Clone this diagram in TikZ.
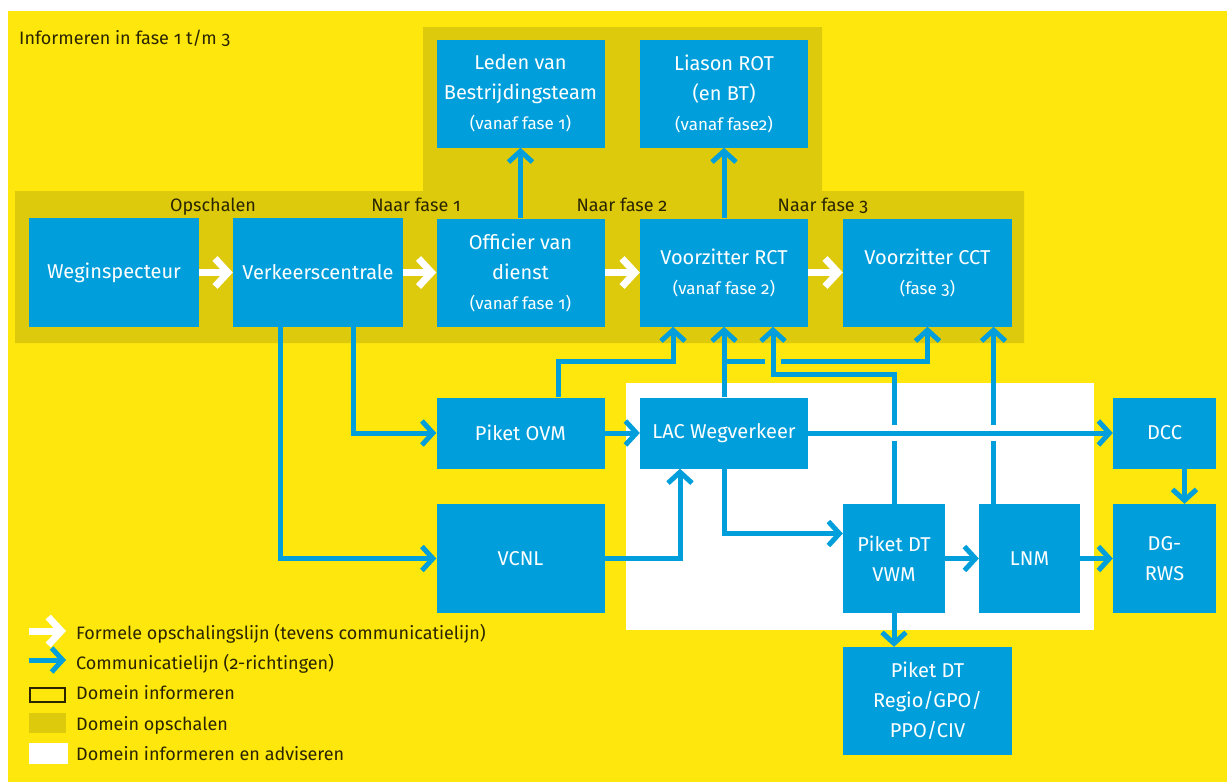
\documentclass[tikz,border=0pt]{standalone}
\usepackage{fontspec}
\setmainfont{Fira Sans}[Numbers=OldStyle]
\usetikzlibrary{arrows.meta}
\definecolor{rwsgeel}{HTML}{FEE70C}
\definecolor{rwsoker}{HTML}{DDCA0C}
\definecolor{rwsblauw}{HTML}{009FDB}
\definecolor{rwstekst}{HTML}{2A2500}
\newcommand{\klein}{\fontsize{17}{30}\selectfont}

\begin{document}
\begin{tikzpicture}[x=1pt,y=-1pt,
    blok/.style={fill=rwsblauw, text=white, align=center, inner sep=0pt, font=\fontsize{20}{30}\selectfont},
    breed/.style={blok, minimum width=168pt, minimum height=108pt},
    plat/.style={blok, minimum width=168pt, minimum height=71pt},
    smal/.style={blok, minimum width=102pt, minimum height=109pt},
    label/.style={text=rwstekst, inner sep=0pt, font=\fontsize{18}{20}\selectfont},
    opschaal/.style={draw=white, line width=7pt, -{Straight Barb[length=13pt,width=28pt,sharp]}},
    comm/.style={draw=rwsblauw, line width=5pt, -{Straight Barb[length=11pt,width=24pt,sharp]}},
    gat/.style={line width=8pt}]

\useasboundingbox (0,0) rectangle (1232,782);
\fill[white] (0,0) rectangle (1232,782);
\fill[rwsgeel] (8,11) rectangle (1227,782);
\fill[rwsoker] (15,191) -| (423,27) -| (822,191) -| (1024,343) -| cycle;
\fill[white] (626,383) rectangle (1094,630);

    \node[label, anchor=base west] (kop) at (19,44) {Informeren in fase 1 t/m 3};
    \node[label, anchor=base] (fase0) at (213,211) {Opschalen};
    \node[label, anchor=base] (fase1) at (416,211) {Naar fase 1};
    \node[label, anchor=base] (fase2) at (622,211) {Naar fase 2};
    \node[label, anchor=base] (fase3) at (823,211) {Naar fase 3};

    \node[breed, minimum width=170pt, minimum height=109pt] (weg) at (114,272.5) {Weginspecteur};
    \node[breed, minimum width=170pt, minimum height=109pt] (vc) at (318,272.5) {Verkeerscentrale};
    \node[breed] (ovd) at (520.5,272.5) {Officier van\\dienst\\\klein (vanaf fase 1)};
    \node[breed] (rct) at (724,272.5) {Voorzitter RCT\\\klein (vanaf fase 2)};
    \node[breed, minimum width=169pt] (cct) at (927.5,272.5) {Voorzitter CCT\\\klein (fase 3)};
    \node[breed] (leden) at (520.5,93.5) {Leden van\\Bestrijdingsteam\\\klein (vanaf fase 1)};
    \node[breed] (liason) at (724,93.5) {Liason ROT\\(en BT)\\\klein (vanaf fase2)};

    \node[plat] (ovm) at (520.5,433) {Piket OVM};
    \node[plat] (lac) at (724,433) {LAC Wegverkeer};
    \node[plat, minimum width=103pt] (dcc) at (1164.5,433) {DCC};
    \node[breed, minimum height=109pt] (vcnl) at (520.5,558.5) {VCNL};
    \node[smal] (dt) at (894,558.5) {Piket DT\\VWM};
    \node[smal, minimum width=101pt] (lnm) at (1029.5,558.5) {LNM};
    \node[smal, minimum width=103pt] (dg) at (1164.5,558.5) {DG-\\RWS};
    \node[breed, minimum width=169pt] (regio) at (927.5,701) {Piket DT\\Regio/GPO/\\PPO/CIV};

    \coordinate (railhi) at (0,361);
    \coordinate (raillo) at (0,374);
    \coordinate (vc1) at ([xshift=35pt]vc.south);
    \coordinate (vc2) at ([xshift=-38pt]vc.south);
    \coordinate (ovm1) at ([xshift=38pt]ovm.north);
    \coordinate (rct1) at ([xshift=-51pt]rct.south);
    \coordinate (rct3) at ([xshift=49pt]rct.south);
    \coordinate (cct2) at ([xshift=66pt]cct.south);
    \coordinate (lac1) at ([xshift=-44pt]lac.south);
    \coordinate (dt1) at ([yshift=25pt]dt.west);
    \coordinate (dcc1) at ([xshift=20pt]dcc.south);
    \coordinate (dg1) at ([xshift=20pt]dg.north);
    \coordinate (kruis1) at (rct3 |- railhi);
    \coordinate (kruis2) at (dt.north |- lac.east);
    \coordinate (kruis3) at (cct2 |- lac.east);

\draw[opschaal] (weg) -- (vc);
\draw[opschaal] (vc) -- (ovd);
\draw[opschaal] (ovd) -- (rct);
\draw[opschaal] (rct) -- (cct);

\draw[comm] (ovd) -- (leden);
\draw[comm] (rct) -- (liason);
\draw[comm] (vc1) |- (ovm);
\draw[comm] (vc2) |- (vcnl);
\draw[comm] (ovm) -- (lac);
\draw[comm] (ovm1) |- (rct1 |- railhi) -- (rct1);
\draw[comm] (lac) -- (rct);
\draw[comm] (lac.north) |- (cct.south |- railhi) -- (cct.south);
\draw[rwsgeel, gat] ([xshift=-8pt]kruis1) -- ([xshift=8pt]kruis1);
\draw[comm] (dt) |- (rct3 |- raillo) -- (rct3);
\draw[comm] (lnm.north -| cct2) -- (cct2);
\draw[white, gat] ([yshift=-8pt]kruis2) -- ([yshift=8pt]kruis2);
\draw[white, gat] ([yshift=-8pt]kruis3) -- ([yshift=8pt]kruis3);
\draw[comm] (lac) -- (dcc);
\draw[comm] (lac) |- (dt1);
\draw[comm] (vcnl) -| (lac1);
\draw[comm] (dt) -- (lnm);
\draw[comm] (lnm) -- (dg);
\draw[comm] (dcc1) -- (dg1);
\draw[comm] (dt) -- (dt.south |- regio.north);

    \coordinate (pijl1a) at (29,631);
    \coordinate (pijl1b) at (66,631);
    \coordinate (pijl2a) at (29,660);
    \coordinate (pijl2b) at (66,660);
\draw[opschaal] (pijl1a) -- (pijl1b);
\draw[comm] (pijl2a) -- (pijl2b);
\draw[rwstekst, line width=1.5pt] (30,688) rectangle (65,702);
\fill[rwsoker] (29,713) rectangle (66,733);
\fill[white] (29,743) rectangle (68,764);
    \node[label, anchor=base west] (leg1) at (76,639) {Formele opschalingslijn (tevens communicatielijn)};
    \node[label, anchor=base west] (leg2) at (76,669) {Communicatielijn (2-richtingen)};
    \node[label, anchor=base west] (leg3) at (76,699) {Domein informeren};
    \node[label, anchor=base west] (leg4) at (76,730) {Domein opschalen};
    \node[label, anchor=base west] (leg5) at (76,760) {Domein informeren en adviseren};
\end{tikzpicture}
\end{document}
